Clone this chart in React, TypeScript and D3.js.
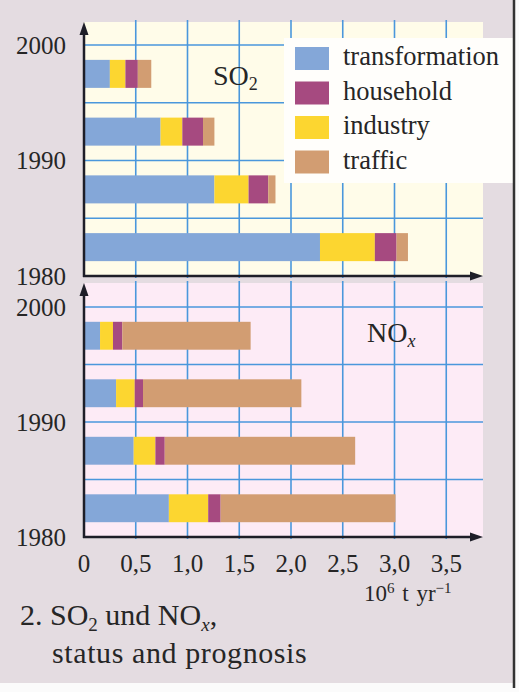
import React from 'react';
import * as d3 from 'd3';

// bars are 5-year periods, drawn bottom to top
const periods = ['1980-85', '1985-90', '1990-95', '1995-2000'];
const sources = ['transformation', 'industry', 'household', 'traffic'];
const legendOrder = ['transformation', 'household', 'industry', 'traffic'];

// 10^6 t per year
const so2Transformation = [2.28, 1.26, 0.74, 0.25];
const so2Industry = [0.53, 0.33, 0.21, 0.15];
const so2Household = [0.21, 0.19, 0.2, 0.12];
const so2Traffic = [0.11, 0.07, 0.11, 0.13];

const noxTransformation = [0.82, 0.48, 0.31, 0.155];
const noxIndustry = [0.38, 0.21, 0.18, 0.125];
const noxHousehold = [0.12, 0.09, 0.08, 0.09];
const noxTraffic = [1.69, 1.84, 1.53, 1.24];

const xTicks = [0, 0.5, 1.0, 1.5, 2.0, 2.5, 3.0, 3.5];
const yearTicks = [1980, 1990, 2000];
const yearGrid = [1985, 1990, 1995, 2000];

const COLORS: Record<string, string> = {
  transformation: '#84a7d8',
  household: '#a64a80',
  industry: '#fcd630',
  traffic: '#d29d72',
};

const W = 519;
const H = 692;
const FONT = '"Liberation Serif", "DejaVu Serif", serif';
const GRID = '#4a97dc';
const AXIS = '#1e1e28';
const INK = '#262626';

const x = d3.scaleLinear().domain([0, 3.5]).range([84, 446.25]);
const xLeft = x(0);
const xRight = 483;

const toRows = (a: number[], b: number[], c: number[], d: number[]) =>
  periods.map((p, i) => ({
    period: p,
    transformation: a[i],
    industry: b[i],
    household: c[i],
    traffic: d[i],
  }));

const stack = d3.stack<any>().keys(sources);

interface PanelProps {
  rows: any[];
  top: number;
  y1980: number;
  y2000: number;
  bg: string;
  gas: React.ReactNode;
}

const Panel: React.FC<PanelProps> = ({ rows, top, y1980, y2000, bg, gas }) => {
  const yYear = d3.scaleLinear().domain([1980, 2000]).range([y1980, y2000]);
  const band = d3
    .scaleBand<string>()
    .domain(periods)
    .range([y1980, y2000])
    .paddingInner(0.515)
    .paddingOuter(0.2575);
  const series = stack(rows);

  return (
    <g>
      <rect x={xLeft} y={top} width={xRight - xLeft} height={y1980 - top} fill={bg} />
      {yearGrid.map((yr) => (
        <line key={yr} x1={xLeft} x2={xRight} y1={yYear(yr)} y2={yYear(yr)} stroke={GRID} strokeWidth={1.6} />
      ))}
      {xTicks.slice(1).map((t) => (
        <line key={t} x1={x(t)} x2={x(t)} y1={top - 2} y2={y1980 + 2} stroke={GRID} strokeWidth={1.6} />
      ))}
      {series.map((s) =>
        s.map((d, i) => (
          <rect
            key={s.key + i}
            x={x(d[0])}
            width={x(d[1]) - x(d[0])}
            y={band(d.data.period)!}
            height={band.bandwidth()}
            fill={COLORS[s.key]}
          />
        ))
      )}
      {gas}
      {yearTicks.map((yr) => (
        <text key={yr} x={66} y={yYear(yr) + 8.5} textAnchor="end" fontSize={25} fill={INK}>
          {yr}
        </text>
      ))}
      {/* axes with arrow heads */}
      <line x1={xLeft} x2={xLeft} y1={y1980 + 1} y2={top + 8} stroke={AXIS} strokeWidth={2.5} />
      <path d={`M${xLeft},${top} L${xLeft - 4.5},${top + 13} L${xLeft + 4.5},${top + 13} Z`} fill={AXIS} />
      <line x1={xLeft - 1} x2={xRight - 8} y1={y1980} y2={y1980} stroke={AXIS} strokeWidth={2.5} />
      <path d={`M${xRight},${y1980} L${xRight - 13},${y1980 - 4.5} L${xRight - 13},${y1980 + 4.5} Z`} fill={AXIS} />
    </g>
  );
};

export default function App() {
  const so2 = toRows(so2Transformation, so2Industry, so2Household, so2Traffic);
  const nox = toRows(noxTransformation, noxIndustry, noxHousehold, noxTraffic);

  return (
    <div style={{ position: 'absolute', left: 0, top: 0 }}>
      <svg width={W} height={H} fontFamily={FONT} style={{ display: 'block', background: '#fbfbfb' }}>
        <rect x={0} y={0} width={513} height={683} fill="#e4dce1" />

        <Panel
          rows={nox}
          top={283}
          y1980={537}
          y2000={307}
          bg="#fdebf6"
          gas={
            <text x={367} y={342} fontSize={28} fill={INK}>
              NO
              <tspan fontSize={18} dy={5} fontStyle="italic">x</tspan>
            </text>
          }
        />
        <Panel
          rows={so2}
          top={22}
          y1980={276}
          y2000={45}
          bg="#fffce9"
          gas={
            <text x={213} y={85} fontSize={28} fill={INK}>
              SO
              <tspan fontSize={18} dy={5}>2</tspan>
            </text>
          }
        />

        {/* legend */}
        <rect x={284} y={38} width={229} height={145} fill="#fffefb" />
        {legendOrder.map((k, i) => (
          <g key={k} transform={`translate(295, ${47 + i * 34.5})`}>
            <rect width={34} height={23} fill={COLORS[k]} />
            <text x={48} y={18} fontSize={26.5} fill={INK}>
              {k}
            </text>
          </g>
        ))}

        {/* x tick labels */}
        {xTicks.map((t) => (
          <text key={t} x={x(t)} y={572} textAnchor="middle" fontSize={25} fill={INK}>
            {t === 0 ? '0' : t.toFixed(1).replace('.', ',')}
          </text>
        ))}
        <text x={364} y={601} fontSize={23} fill={INK} wordSpacing={2}>
          10
          <tspan fontSize={15} dy={-8}>6</tspan>
          <tspan dy={8}> t yr</tspan>
          <tspan fontSize={15} dy={-8}>−1</tspan>
        </text>

        {/* caption */}
        <text x={20} y={625} fontSize={30} fill={INK}>
          2. SO
          <tspan fontSize={19} dy={6}>2</tspan>
          <tspan dy={-6}> und NO</tspan>
          <tspan fontSize={19} dy={6} fontStyle="italic">x</tspan>
          <tspan dy={-6}>,</tspan>
        </text>
        <text x={52} y={663} fontSize={30} fill={INK} letterSpacing={0.6}>
          status and prognosis
        </text>

        <line x1={514} x2={514} y1={0} y2={688} stroke="#333" strokeWidth={2.5} />
      </svg>
    </div>
  );
}
